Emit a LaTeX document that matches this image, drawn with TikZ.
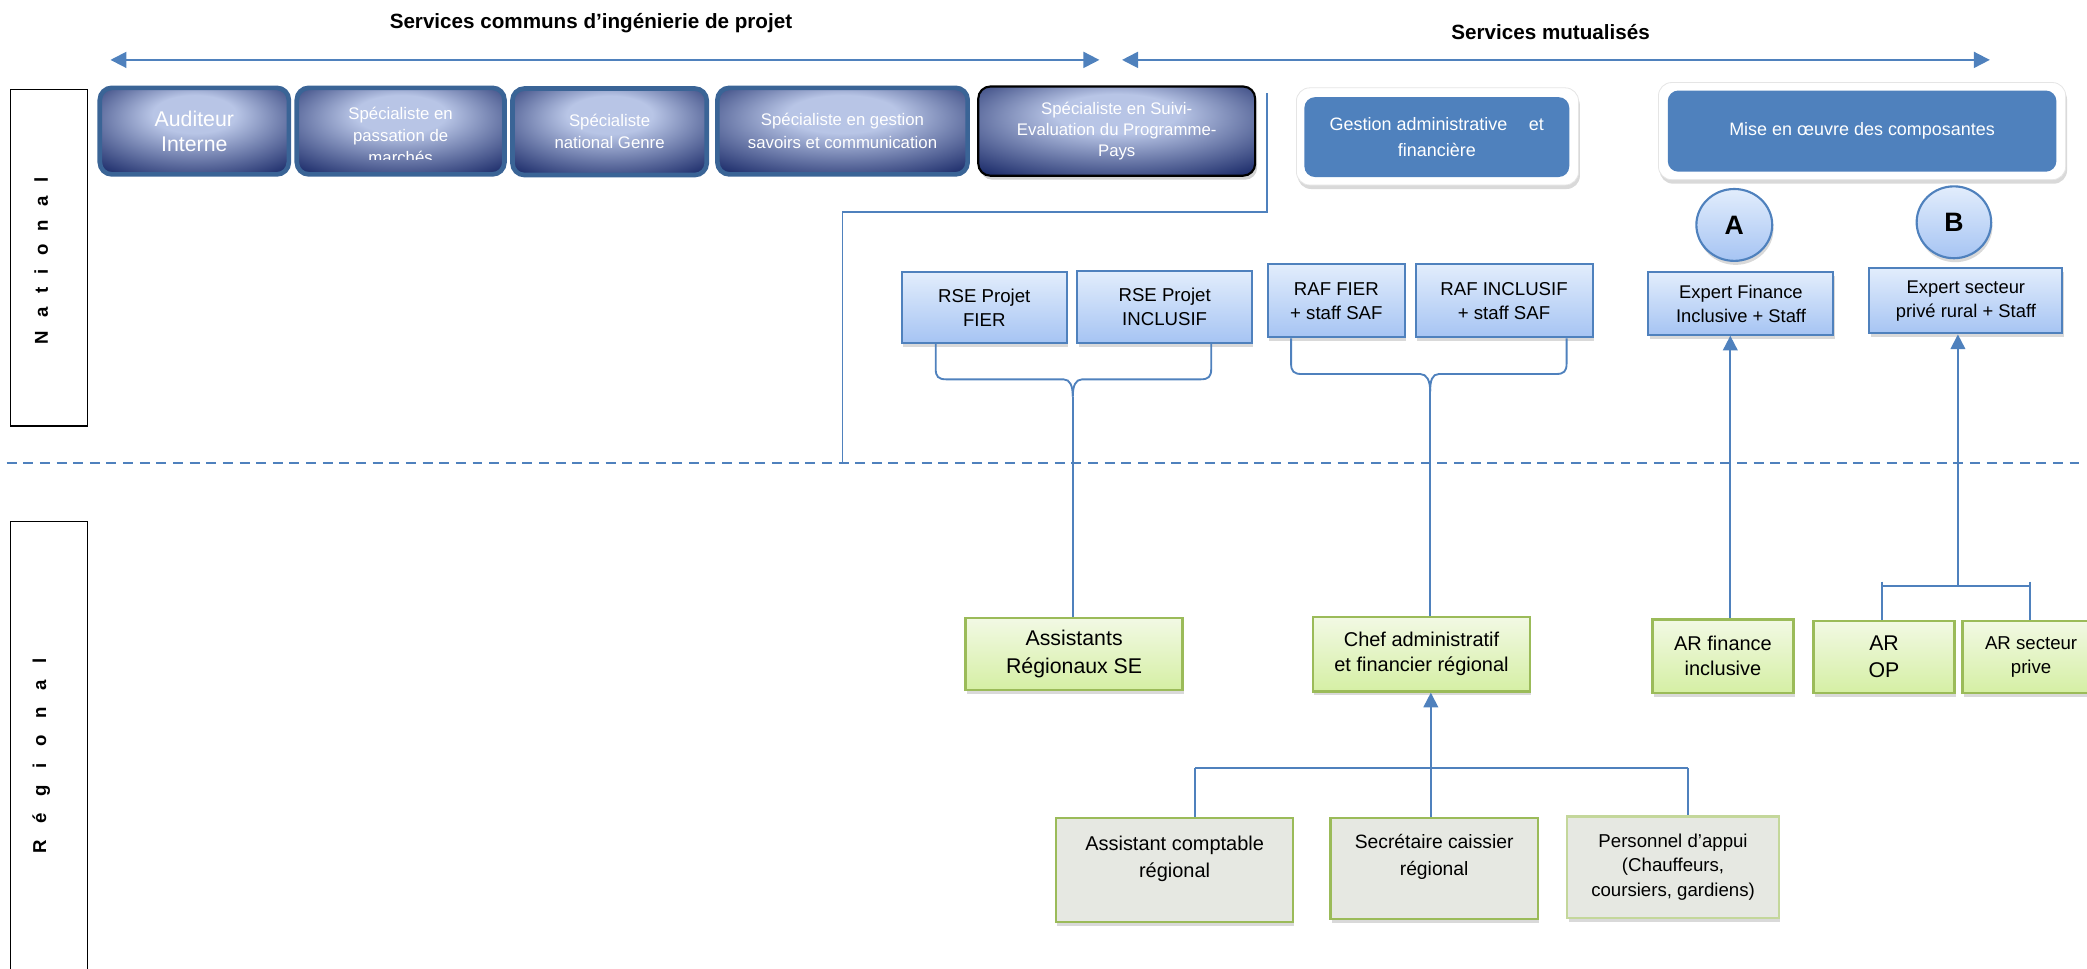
\documentclass[tikz,border=0pt]{standalone}
\usepackage{fontspec}
\setmainfont{Liberation Sans}
\usetikzlibrary{shadows,arrows.meta,shapes.geometric}

\definecolor{linkblue}{HTML}{4F81BD}
\definecolor{navyedge}{HTML}{172766}
\definecolor{navylight}{HTML}{B8C5E6}
\definecolor{frameblue}{HTML}{3A6496}
\definecolor{paletop}{HTML}{E2EDFC}
\definecolor{palebot}{HTML}{A6C4F3}
\definecolor{greentop}{HTML}{F2F9E4}
\definecolor{greenbot}{HTML}{D5EFA4}
\definecolor{greenline}{HTML}{9BBB59}
\definecolor{greyfill}{HTML}{E6E8E2}
\definecolor{softgreenline}{HTML}{C4D79B}

% light glow near the top centre, navy towards the edges
\pgfdeclareradialshading{navyglow}{\pgfpoint{0bp}{12bp}}{%
  color(0bp)=(navylight); color(11bp)=(navylight);
  color(38bp)=(navyedge); color(60bp)=(navyedge)}

\newcommand\fsz[2]{\fontsize{#1}{#2}\selectfont}
\newcommand\lspN{\hspace{10pt}}
\newcommand\lspR{\hspace{12.5pt}}

\tikzset{
  navybox/.style={shade, shading=navyglow, draw=frameblue, line width=3.5pt,
    rounded corners=9pt, inner sep=2pt, text=white, align=center},
  navyboxdark/.style={navybox, draw=black, line width=1.6pt,
    drop shadow={shadow xshift=1.5pt, shadow yshift=-3pt, opacity=.35}},
  gateframe/.style={fill=white, draw=black!10, line width=0.6pt, rounded corners=10pt,
    drop shadow={shadow xshift=1pt, shadow yshift=-3pt, opacity=.3}},
  gatebox/.style={fill=linkblue, rounded corners=8pt, text=white, align=center, inner sep=2pt},
  palebox/.style={top color=paletop, bottom color=palebot, draw=linkblue, line width=1.5pt,
    align=center, inner sep=2pt,
    drop shadow={shadow xshift=1pt, shadow yshift=-3pt, opacity=.3}},
  disc/.style={ellipse, top color=paletop, bottom color=palebot, draw=linkblue, line width=1.6pt,
    inner sep=0pt, font=\bfseries\fsz{20}{22},
    drop shadow={shadow xshift=1pt, shadow yshift=-3pt, opacity=.3}},
  greenbox/.style={top color=greentop, bottom color=greenbot, draw=greenline, line width=1.8pt,
    align=center, inner sep=2pt,
    drop shadow={shadow xshift=1pt, shadow yshift=-3pt, opacity=.3}},
  greybox/.style={fill=greyfill, draw=greenline, line width=1.8pt, align=center, inner sep=2pt,
    drop shadow={shadow xshift=1pt, shadow yshift=-3pt, opacity=.3}},
  conn/.style={draw=linkblue, line width=1.4pt},
  arr/.style={conn, -{Triangle[width=11pt,length=11pt]}},
  span/.style={conn, {Triangle[width=12pt,length=12pt]}-{Triangle[width=12pt,length=12pt]}},
  sidebox/.style={draw=black, line width=0.9pt},
  sidetext/.style={rotate=90, font=\bfseries\fsz{14}{16}},
  heading/.style={font=\bfseries\fsz{15.5}{18}},
}

\begin{document}
\begin{tikzpicture}[x=1pt,y=-1pt]
\useasboundingbox (0,0) rectangle (1568,728);

% ---- headings and span arrows
\node[heading] (titleL) at (444,17) {Services communs d’ingénierie de projet};
\node[heading] (titleR) at (1165,24) {Services mutualisés};
\coordinate (spanLa) at (83,45);
\coordinate (spanLb) at (826,45);
\coordinate (spanRa) at (843,45);
\coordinate (spanRb) at (1495,45);
\draw[span] (spanLa) -- (spanLb);
\draw[span] (spanRa) -- (spanRb);

% ---- level labels
\node[sidebox, minimum width=58pt, minimum height=253pt] (natbox) at (37,193.5) {};
\node[sidetext] (nattext) at (31,196) {N\lspN a\lspN t\lspN i\lspN o\lspN n\lspN a\lspN l};
\node[sidebox, minimum width=58pt, minimum height=348pt] (regbox) at (37,566) {};
\node[sidetext] (regtext) at (31,568) {R\lspR é\lspR g\lspR i\lspR o\lspR n\lspR a\lspR l};

% ---- level divider
\coordinate (divL) at (5,348);
\coordinate (divR) at (1562,348);
\draw[conn, dash pattern=on 7.5pt off 5pt] (divL) -- (divR);

% ---- shared engineering services
\node[navybox, minimum width=142pt, minimum height=65pt, font=\fsz{16}{19}] (b1) at (146,98.5) {Auditeur\\Interne};
\node[navybox, minimum width=156pt, minimum height=65pt] (b2) at (301,98.5) {};
\begin{scope}
  \clip (225,68) rectangle (377,119.5);
  \node[text=white, align=center, font=\fsz{12.6}{16.5}] (b2text) at (301,101.5) {Spécialiste en\\passation de\\marchés};
\end{scope}
\node[navybox, minimum width=146pt, minimum height=65pt, font=\fsz{12.6}{16.5}] (b3) at (458,99) {Spécialiste\\national Genre};
\node[navybox, minimum width=188pt, minimum height=65pt, font=\fsz{12.6}{17.5}] (b4) at (633,98.5) {Spécialiste en gestion\\savoirs et communication};
\node[navyboxdark, minimum width=208pt, minimum height=67pt, font=\fsz{12.6}{16}] (b5) at (839,98.5) {Spécialiste en Suivi-\\Evaluation du Programme-\\Pays};

% ---- pooled services
\node[gateframe, minimum width=212pt, minimum height=73pt] (gestframe) at (1080,102.5) {};
\node[gatebox, minimum width=199pt, minimum height=60pt, font=\fsz{13.5}{20}] (gest) at (1079.5,103) {Gestion administrative\hspace{1.2em}et\\financière};
\node[gateframe, minimum width=306pt, minimum height=73pt] (miseframe) at (1399,98.5) {};
\node[gatebox, minimum width=292pt, minimum height=61pt, font=\fsz{13.5}{18}] (mise) at (1399,98.5) {Mise en œuvre des composantes};

\node[disc, minimum width=57pt, minimum height=54pt] (compA) at (1303,169) {A};
\node[disc, minimum width=56pt, minimum height=54pt] (compB) at (1468,167) {B};

% ---- national posts
\node[palebox, minimum width=124pt, minimum height=53pt, font=\fsz{14}{18}] (rsefier) at (739.5,231) {RSE Projet\\FIER};
\node[palebox, minimum width=131pt, minimum height=54pt, font=\fsz{14}{18}] (rseincl) at (875,230.5) {RSE Projet\\INCLUSIF};
\node[palebox, minimum width=103pt, minimum height=55pt, font=\fsz{14}{18}] (raffier) at (1004,226) {RAF FIER\\+ staff SAF};
\node[palebox, minimum width=133pt, minimum height=55pt, font=\fsz{14}{18}] (rafincl) at (1130,226) {RAF INCLUSIF\\+ staff SAF};
\node[palebox, minimum width=139pt, minimum height=47pt, font=\fsz{13.8}{18}] (expfin) at (1308,228) {Expert Finance\\Inclusive + Staff};
\node[palebox, minimum width=145pt, minimum height=49pt, font=\fsz{13.8}{18}] (expsec) at (1477,226) {Expert secteur\\privé rural + Staff};

% ---- regional posts
\node[greenbox, minimum width=163pt, minimum height=54pt, font=\fsz{16}{21}] (assist) at (807,491.5) {Assistants\\Régionaux SE};
\node[greenbox, minimum width=163pt, minimum height=56pt, font=\fsz{15}{19}] (chef) at (1068,491.5) {Chef administratif\\et financier régional};
\node[greenbox, minimum width=106pt, minimum height=55pt, font=\fsz{15}{19}] (arfin) at (1294.5,493) {AR finance\\inclusive};
\node[greenbox, minimum width=106pt, minimum height=54pt, font=\fsz{16}{20}] (arop) at (1415.5,493.5) {AR\\OP};
\node[greenbox, minimum width=103pt, minimum height=54pt, font=\fsz{14}{18}] (arsec) at (1526,493.5) {AR secteur\\prive};

\node[greybox, minimum width=178pt, minimum height=78pt, font=\fsz{15}{20}] (acompt) at (882.5,653.5) {Assistant comptable\\régional\\\mbox{}};
\node[greybox, minimum width=156pt, minimum height=76pt, font=\fsz{14.5}{20}] (secr) at (1077.5,652.5) {Secrétaire caissier\\régional\\\mbox{}};
\node[greybox, draw=softgreenline, minimum width=159pt, minimum height=76pt, font=\fsz{14}{18.5}] (perso) at (1257,651.5) {Personnel d’appui\\(Chauffeurs,\\coursiers, gardiens)};

% ---- link from the M&E specialist down to the divider
\coordinate (seTop) at (952,70);
\coordinate (seBend) at (633,159);
\coordinate (seEnd) at (633,348);
\draw[conn] (seTop) |- (seBend) -- (seEnd);

% ---- brace under the RSE posts
\coordinate (rseL) at (703,0);
\coordinate (rseR) at (910,0);
\coordinate (rsec) at (806,298);
\draw[conn] (rseL |- rsefier.south) -- (703,277) .. controls (703,283) and (705,285) .. (711,285)
  -- (799,285) .. controls (804,285) and (806,290) .. (rsec);
\draw[conn] (rseR |- rseincl.south) -- (910,277) .. controls (910,283) and (908,285) .. (902,285)
  -- (813,285) .. controls (808,285) and (806,290) .. (rsec);
\draw[conn] (rsec) -- (rsec |- assist.north);

% ---- brace under the RAF posts
\coordinate (rafL) at (970,0);
\coordinate (rafR) at (1177,0);
\coordinate (rafc) at (1074.5,294);
\draw[conn] (rafL |- raffier.south) -- (970,273) .. controls (970,279) and (972,281) .. (978,281)
  -- (1067,281) .. controls (1072,281) and (1074.5,286) .. (rafc);
\draw[conn] (rafR |- rafincl.south) -- (1177,273) .. controls (1177,279) and (1175,281) .. (1169,281)
  -- (1081,281) .. controls (1076,281) and (1074.5,286) .. (rafc);
\draw[conn] (rafc) -- (rafc |- chef.north);

% ---- regional support staff towards the regional chief
\coordinate (staffBus) at (1075,577);
\coordinate (dropA) at (898,577);
\coordinate (dropC) at (1268,577);
\draw[arr] (staffBus) -- (staffBus |- chef.south);
\draw[conn] (dropA) -- (dropC);
\draw[conn] (dropA) -- (dropA |- acompt.north);
\draw[conn] (staffBus) -- (staffBus |- secr.north);
\draw[conn] (dropC) -- (dropC |- perso.north);

% ---- component A
\coordinate (colA) at (1300,0);
\draw[arr] (colA |- arfin.north) -- (colA |- expfin.south);

% ---- component B
\coordinate (busB) at (1471,440);
\coordinate (busBl) at (1414,437);
\coordinate (busBr) at (1525,437);
\draw[arr] (busB) -- (busB |- expsec.south);
\draw[conn] (busBl |- busB) -- (busBr |- busB);
\draw[conn] (busBl) -- (busBl |- arop.north);
\draw[conn] (busBr) -- (busBr |- arsec.north);
\end{tikzpicture}
\end{document}
